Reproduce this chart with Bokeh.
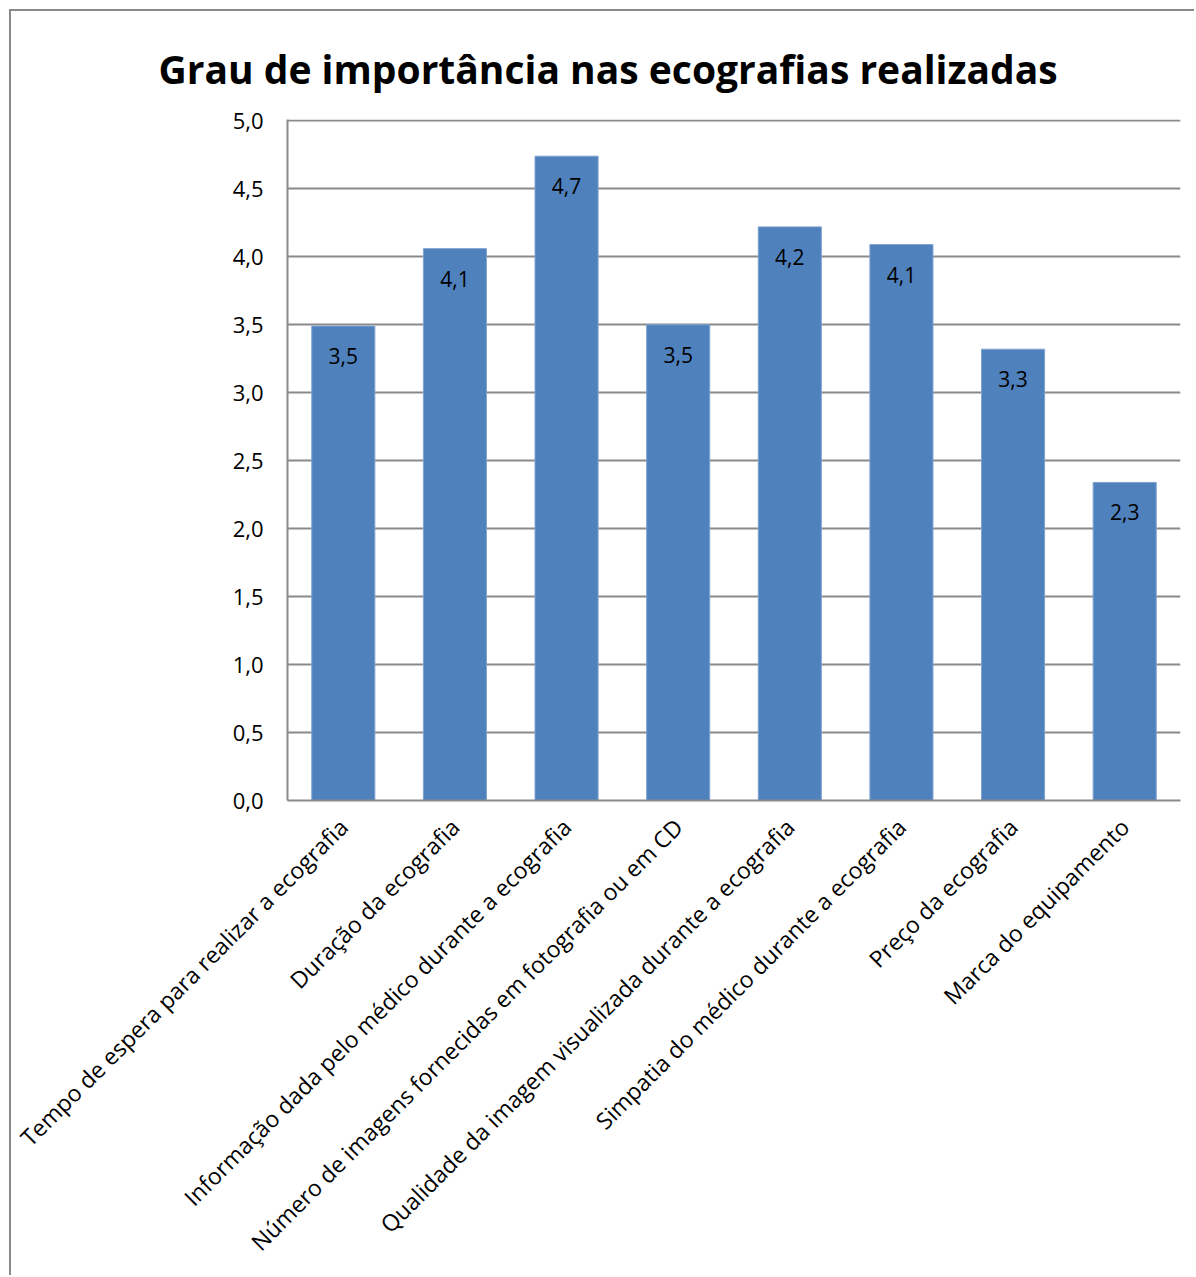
import math
from bokeh.plotting import figure
from bokeh.models import ColumnDataSource, Title, CustomJSTickFormatter, FixedTicker
from bokeh.core.properties import value
from bokeh.embed import file_html
from bokeh.resources import INLINE

categories = [
    "Tempo de espera para realizar a ecografia",
    "Duração da ecografia",
    "Informação dada pelo médico durante a ecografia",
    "Número de imagens fornecidas em fotografia ou em CD",
    "Qualidade da imagem visualizada durante a ecografia",
    "Simpatia do médico durante a ecografia",
    "Preço da ecografia",
    "Marca do equipamento",
]
values = [3.49, 4.06, 4.74, 3.50, 4.22, 4.09, 3.32, 2.34]
y_ticks = [0.0, 0.5, 1.0, 1.5, 2.0, 2.5, 3.0, 3.5, 4.0, 4.5, 5.0]
title_text = "Grau de importância nas ecografias realizadas"

labels = [f"{v:.1f}".replace(".", ",") for v in values]
source = ColumnDataSource(dict(cat=categories, val=values, lab=labels))

FONT = "Open Sans"
GRAY = "#8a8a8a"

p = figure(
    x_range=categories, y_range=(0, 5.01),
    width=1185, height=1266,
    output_backend="svg", toolbar_location=None,
    min_border_left=276, min_border_right=16,
    min_border_top=108, min_border_bottom=477,
    margin=(9, 0, 0, 9),
    styles={"border-left": f"2px solid {GRAY}", "border-top": f"2px solid {GRAY}"},
)
p.outline_line_color = None
p.background_fill_color = "white"
p.border_fill_color = "white"

p.vbar(x="cat", top="val", width=0.565, source=source,
       fill_color="#4F81BD", line_color="#7FA3D1", line_width=1)

p.text(x="cat", y="val", text="lab", source=source, y_offset=30,
       text_align="center", text_baseline="middle",
       text_font=value(FONT), text_font_size="21px", text_color="black")

p.xgrid.grid_line_color = None
p.ygrid.grid_line_color = GRAY
p.ygrid.grid_line_width = 2
p.yaxis.ticker = FixedTicker(ticks=y_ticks)
p.yaxis.formatter = CustomJSTickFormatter(code="return tick.toFixed(1).replace('.', ',');")

for ax in (p.xaxis, p.yaxis):
    ax.axis_line_color = GRAY
    ax.axis_line_width = 2
    ax.major_tick_line_color = None
    ax.minor_tick_line_color = None
    ax.major_label_text_font = FONT
    ax.major_label_text_color = "black"

p.yaxis.major_label_standoff = 18
p.yaxis.major_label_text_font_size = "22px"
p.xaxis.major_label_text_font_size = "23px"
p.xaxis.major_label_orientation = math.pi / 4
p.xaxis.major_label_standoff = 16

p.title = Title(text=title_text, align="left", offset=-129,
                text_font=FONT, text_font_style="bold", text_font_size="39px",
                text_color="black", standoff=50, vertical_align="bottom")

open("out.html", "w").write(file_html(p, INLINE))
